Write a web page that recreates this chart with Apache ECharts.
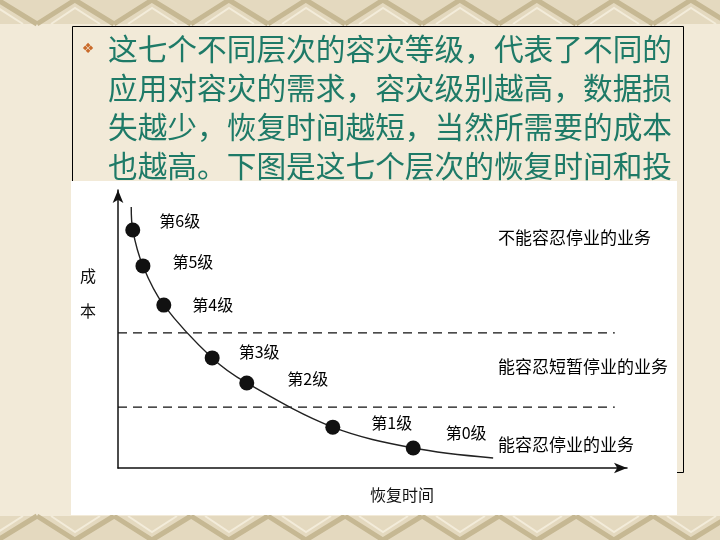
<!DOCTYPE html>
<html><head><meta charset="utf-8">
<script src="https://cdn.jsdelivr.net/npm/echarts@6/dist/echarts.min.js"></script>
<style>html,body{margin:0;padding:0;background:#f2ead8;}#c{width:720px;height:540px;}</style>
</head><body><div id="c"></div>
<script>
// ---- data ----
const introLines = [
  '这七个不同层次的容灾等级，代表了不同的',
  '应用对容灾的需求，容灾级别越高，数据损',
  '失越少，恢复时间越短，当然所需要的成本',
  '也越高。下图是这七个层次的恢复时间和投'
];
const levelNames = ['第6级','第5级','第4级','第3级','第2级','第1级','第0级'];
const levelX = [2.9, 4.9, 9.0, 18.5, 25.3, 42.2, 58.0];   // recovery time (relative)
const levelY = [85.6, 72.7, 58.6, 39.6, 30.6, 14.7, 7.2]; // cost (relative)
const curveX = [2.6, 2.9, 4.9, 9.0, 18.5, 25.3, 42.2, 58.0, 73.7];
const curveY = [93.9, 85.6, 72.7, 58.6, 39.6, 30.6, 14.7, 7.2, 3.6];
const bandBounds = [48.6, 21.9];
const bandEndX = 97.6;
const bandNames = ['不能容忍停业的业务','能容忍短暂停业的业务','能容忍停业的业务'];
const yAxisName = ['成','本'];
const xAxisName = '恢复时间';

// ---- styling (not data) ----
const labelOffsets = [[19,-9],[22,-4],[21,0],[19,-6],[33,-4],[31,-4],[25,-15]];
const bandLabelPos = [[498,238],[498,367],[498,445]];
const CJK = '"Noto Sans CJK SC","Noto Sans",sans-serif';

const chart = echarts.init(document.getElementById('c'), null, {renderer:'canvas'});

// decorative bands
const deco = [];
function band(y0, h, flip){
  deco.push({type:'rect', shape:{x:0,y:y0,width:720,height:h}, style:{fill:'#e4d9bf'}, z:0, silent:true});
  for(let x=-40; x<760; x+=77){
    const pts = flip
      ? [[x, y0], [x+38, y0+h], [x+77, y0]]
      : [[x, y0+h], [x+38, y0], [x+77, y0+h]];
    deco.push({type:'polyline', shape:{points:pts}, style:{stroke:'#c6b893', lineWidth:5, fill:null}, z:0, silent:true});
    const pts2 = flip
      ? [[x+14, y0], [x+38, y0+h-8], [x+63, y0]]
      : [[x+14, y0+h], [x+38, y0+8], [x+63, y0+h]];
    deco.push({type:'polyline', shape:{points:pts2}, style:{stroke:'#f3ecda', lineWidth:2, fill:null}, z:0, silent:true});
  }
}
band(0, 24, false);
band(516, 24, true);

const graphics = deco.concat([
  {type:'rect', shape:{x:72.5,y:26.5,width:611,height:446}, style:{fill:null, stroke:'#000', lineWidth:1}, z:1, silent:true},
  {type:'text', x:88, y:49, style:{text:'❖', fill:'#c96a2a', font:'14px "DejaVu Sans"', align:'center', verticalAlign:'middle'}, z:2},
  {type:'rect', shape:{x:71,y:181,width:606,height:334}, style:{fill:'#ffffff'}, z:2, silent:true},
  {type:'text', x:88, y:276, style:{text:yAxisName[0], fill:'#111', font:'16px '+CJK, align:'center', verticalAlign:'middle'}, z:5},
  {type:'text', x:88, y:311, style:{text:yAxisName[1], fill:'#111', font:'16px '+CJK, align:'center', verticalAlign:'middle'}, z:5},
  {type:'text', x:402, y:495, style:{text:xAxisName, fill:'#111', font:'16px '+CJK, align:'center', verticalAlign:'middle'}, z:5}
]);
introLines.forEach((t,i)=>{
  graphics.push({type:'text', x:108, y:49+i*39, style:{text:t, fill:'#1e7a67', font:'29.7px '+CJK, align:'left', verticalAlign:'middle'}, z:3});
});
bandNames.forEach((t,i)=>{
  graphics.push({type:'text', x:bandLabelPos[i][0], y:bandLabelPos[i][1], style:{text:t, fill:'#000', font:'17px '+CJK, align:'left', verticalAlign:'middle'}, z:5});
});

const axisCommon = {
  type:'value', min:0, max:100, z:20,
  axisLine:{show:true, symbol:['none','arrow'], symbolSize:[8,13], lineStyle:{color:'#111', width:1.5}},
  axisTick:{show:false}, axisLabel:{show:false}, splitLine:{show:false}
};

const series = [
  {type:'line', data:curveX.map((x,i)=>[x,curveY[i]]), smooth:0.35, symbol:'none',
   lineStyle:{color:'#222', width:1.4}, z:3, silent:true},
  {type:'scatter', symbolSize:15, itemStyle:{color:'#111', opacity:1}, z:4,
   data:levelX.map((x,i)=>({value:[x,levelY[i]],
     label:{show:true, position:'right', distance:0, offset:labelOffsets[i], formatter:levelNames[i]}})),
   label:{color:'#000', fontSize:16, fontFamily:CJK}}
];
bandBounds.forEach(v=>{
  series.push({type:'line', data:[[0,v],[bandEndX,v]], symbol:'none', silent:true,
    lineStyle:{color:'#111', width:1.3, type:[9,6]}, z:2});
});

chart.setOption({
  backgroundColor:'#f2ead8',
  animation:false,
  grid:{left:118, top:190, width:509, height:278, containLabel:false},
  xAxis:Object.assign({}, axisCommon),
  yAxis:Object.assign({}, axisCommon),
  series:series,
  graphic:{elements:graphics}
});
</script></body></html>
